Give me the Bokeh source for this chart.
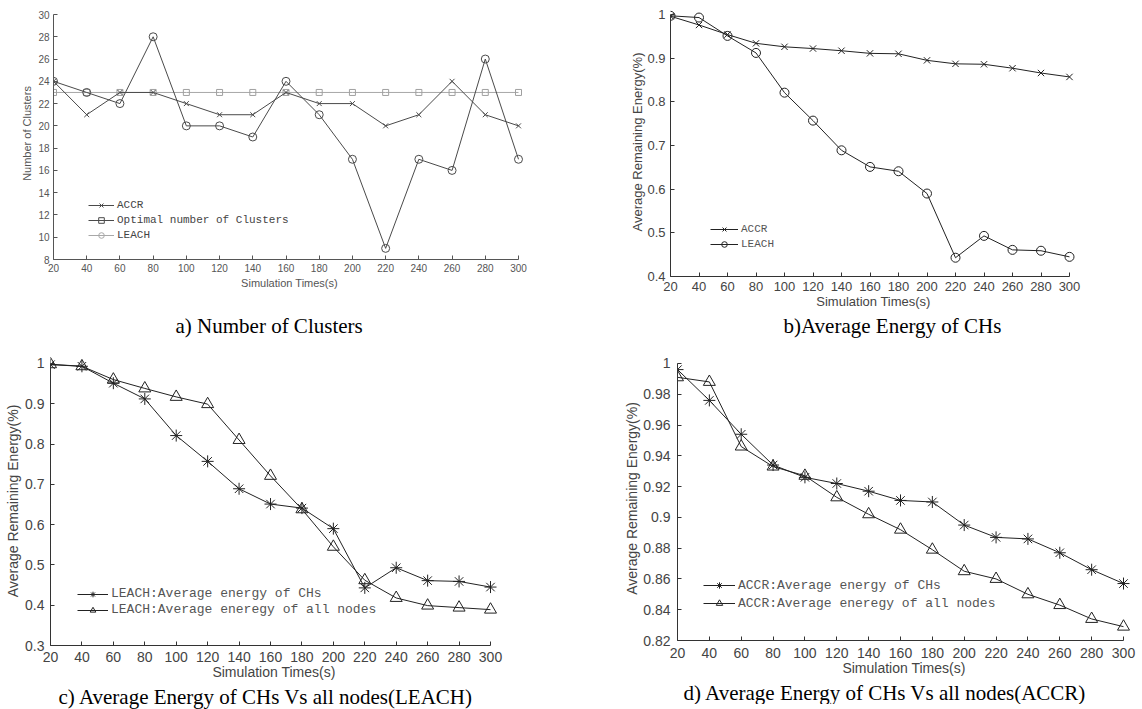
from bokeh.plotting import figure
from bokeh.layouts import column, row
from bokeh.models import (Range1d, FixedTicker, CustomJSTickFormatter,
                          Legend, LegendItem, ColumnDataSource, Title)
from bokeh.embed import file_html
from bokeh.resources import INLINE

# ---------------- data ----------------
times = [20, 40, 60, 80, 100, 120, 140, 160, 180, 200, 220, 240, 260, 280, 300]

# a) Number of Clusters
clusters_accr = [24, 21, 23, 23, 22, 21, 21, 23, 22, 22, 20, 21, 24, 21, 20]
clusters_swing = [24, 23, 22, 28, 20, 20, 19, 24, 21, 17, 9, 17, 16, 26, 17]
clusters_const = [23, 23, 23, 23, 23, 23, 23, 23, 23, 23, 23, 23, 23, 23, 23]

# b) / d) ACCR energy of CHs, b) / c) LEACH energy of CHs
accr_chs = [0.996, 0.976, 0.954, 0.934, 0.926, 0.922, 0.917, 0.911, 0.910,
            0.895, 0.887, 0.886, 0.877, 0.866, 0.857]
leach_chs = [0.997, 0.993, 0.951, 0.912, 0.821, 0.757, 0.689, 0.651, 0.641,
             0.590, 0.443, 0.493, 0.461, 0.459, 0.445]
# c) LEACH all nodes, d) ACCR all nodes
leach_all = [0.998, 0.993, 0.960, 0.938, 0.917, 0.899, 0.810, 0.721, 0.638,
             0.545, 0.462, 0.418, 0.399, 0.394, 0.389]
accr_all = [0.991, 0.988, 0.946, 0.933, 0.927, 0.913, 0.902, 0.892, 0.879,
            0.865, 0.860, 0.850, 0.843, 0.834, 0.829]

ticks_a = [8, 10, 12, 14, 16, 18, 20, 22, 24, 26, 28, 30]
ticks_b = [0.4, 0.5, 0.6, 0.7, 0.8, 0.9, 1.0]
ticks_c = [0.3, 0.4, 0.5, 0.6, 0.7, 0.8, 0.9, 1.0]
ticks_d = [0.82, 0.84, 0.86, 0.88, 0.9, 0.92, 0.94, 0.96, 0.98, 1.0]

SANS = "Liberation Sans"
MONO = "Liberation Mono"
SERIF = "Liberation Serif"
INK = "#222222"
PAD = 7  # px of room beyond the last tick (right / top) so markers are not cut


def make_fig(w, h, yticks, borders, axis_px, fs_tick, fs_label, ylabel,
             axis_col, text_col, tick_stand, lab_stand_x, lab_stand_y):
    ml, mr, mt, mb = borders
    ax_w, ax_h = axis_px          # pixel length of the x axis and y axis lines
    x0, x1 = times[0], times[-1]
    y0, y1 = yticks[0], yticks[-1]
    xr = Range1d(x0, x1 + PAD * (x1 - x0) / ax_w)
    yr = Range1d(y0, y1 + PAD * (y1 - y0) / ax_h)
    p = figure(width=w, height=h, x_range=xr, y_range=yr,
               output_backend="svg", toolbar_location=None,
               min_border_left=ml, min_border_right=mr,
               min_border_top=mt, min_border_bottom=mb)
    p.outline_line_color = None
    p.grid.visible = False
    p.background_fill_color = "white"
    p.border_fill_color = "white"
    fmt = "return String(Math.round(tick*1000)/1000);"
    p.xaxis.ticker = FixedTicker(ticks=times)
    p.yaxis.ticker = FixedTicker(ticks=yticks)
    p.xaxis.formatter = CustomJSTickFormatter(code=fmt)
    p.yaxis.formatter = CustomJSTickFormatter(code=fmt)
    p.xaxis.bounds = (x0, x1)
    p.yaxis.bounds = (y0, y1)
    for ax in (p.xaxis[0], p.yaxis[0]):
        ax.axis_line_color = axis_col
        ax.major_tick_line_color = axis_col
        ax.minor_tick_line_color = None
        ax.major_tick_in = 4
        ax.major_tick_out = 0
        ax.major_label_text_font = SANS
        ax.major_label_text_font_size = fs_tick
        ax.major_label_text_color = text_col
        ax.major_label_standoff = tick_stand
        ax.axis_label_text_font = SANS
        ax.axis_label_text_font_size = fs_label
        ax.axis_label_text_font_style = "normal"
        ax.axis_label_text_color = text_col
    p.xaxis.axis_label = "Simulation Times(s)"
    p.yaxis.axis_label = ylabel
    p.xaxis.axis_label_standoff = lab_stand_x
    p.yaxis.axis_label_standoff = lab_stand_y
    return p


def add_caption(p, text, offset, gap):
    # a blank, tiny title used only as a vertical gap, then the caption
    if gap > 0:
        p.add_layout(Title(text=" ", standoff=gap, text_font=SERIF,
                           text_font_size="1px", text_color="white"), "below")
    p.add_layout(Title(text=text, align="left", offset=offset, standoff=0,
                       text_font=SERIF, text_font_size="21px",
                       text_font_style="normal", text_color="black"), "below")


def add_legend(p, items, loc, gw, gh, fs, col, spacing):
    leg = Legend(items=items, location=loc, glyph_width=gw, glyph_height=gh,
                 label_height=gh, label_standoff=3, spacing=spacing,
                 padding=0, margin=0, border_line_color=None,
                 background_fill_alpha=0, label_text_font=MONO,
                 label_text_font_size=fs, label_text_color=col)
    p.add_layout(leg)


def proxy(p, color, marker, size):
    # legend-only sample (one undefined point, never visible in the plot)
    src = ColumnDataSource(data=dict(x=[float("nan")], y=[float("nan")]))
    l = p.line("x", "y", source=src, line_color=color, line_width=1)
    s = p.scatter("x", "y", source=src, marker=marker, size=size,
                  line_color=color, fill_color=None, line_width=1)
    return [l, s]


# ---------------- a) ----------------
ca = "#4a4a4a"
pa = make_fig(600, 339, ticks_a, (53, 75, 7, 80), (465, 245), "10px", "11px",
              "Number of Clusters", "#555555", "#555555", 4, 2, 2)
pa.line(times, clusters_const, line_color="#a8a8a8", line_width=1)
pa.scatter(times, clusters_const, marker="square", size=6, line_color="#a0a0a0",
           fill_color=None)
ra1 = pa.line(times, clusters_accr, line_color=ca, line_width=1)
ra2 = pa.scatter(times, clusters_accr, marker="x", size=7, line_color=ca)
pa.line(times, clusters_swing, line_color=ca, line_width=1)
pa.scatter(times, clusters_swing, marker="circle", size=8, line_color=ca,
           fill_color=None)
add_legend(pa, [LegendItem(label="ACCR", renderers=[ra1, ra2]),
                LegendItem(label="Optimal number of Clusters",
                           renderers=proxy(pa, ca, "square", 6)),
                LegendItem(label="LEACH", renderers=proxy(pa, "#a8a8a8", "circle", 8))],
           (35, 17), 26, 14, "11px", "#444444", 1)
add_caption(pa, "a) Number of Clusters", 122, 17)

# ---------------- b) ----------------
pb = make_fig(542, 356, ticks_b, (70, 66, 7, 80), (399, 262), "13px", "13px",
              "Average Remaining Energy(%)", "#333333", "#444444", 5, 0, -1)
rb1 = pb.line(times, accr_chs, line_color=INK, line_width=1)
rb2 = pb.scatter(times, accr_chs, marker="x", size=9, line_color=INK)
rb3 = pb.line(times, leach_chs, line_color=INK, line_width=1)
rb4 = pb.scatter(times, leach_chs, marker="circle", size=9, line_color=INK,
                 fill_color=None)
add_legend(pb, [LegendItem(label="ACCR", renderers=[rb1, rb2]),
                LegendItem(label="LEACH", renderers=[rb3, rb4])],
           (40, 25), 28, 14, "11px", "#555555", 1)
add_caption(pb, "b)Average Energy of CHs", 113, 0)

# ---------------- c) ----------------
pc = make_fig(600, 353, ticks_c, (50, 103, 0, 62), (440, 284), "14px", "14px",
              "Average Remaining Energy(%)", "#333333", "#444444", 6, -1, 1)
rc1 = pc.line(times, leach_chs, line_color=INK, line_width=1)
rc2 = pc.scatter(times, leach_chs, marker="asterisk", size=12, line_color=INK)
rc3 = pc.line(times, leach_all, line_color=INK, line_width=1)
rc4 = pc.scatter(times, leach_all, marker="triangle", size=12, line_color=INK,
                 fill_color=None)
add_legend(pc, [LegendItem(label="LEACH:Average energy of CHs", renderers=[rc1, rc2]),
                LegendItem(label="LEACH:Average eneregy of all nodes",
                           renderers=[rc3, rc4])],
           (27, 28), 31, 14, "13px", "#555555", 1)
add_caption(pc, "c) Average Energy of CHs Vs all nodes(LEACH)", 8, 0)

# ---------------- d) ----------------
pd_ = make_fig(542, 348, ticks_d, (77, 12, 0, 62), (446, 279), "14px", "14px",
               "Average Remaining Energy(%)", "#333333", "#444444", 7, -1, 0)
rd1 = pd_.line(times, accr_chs, line_color=INK, line_width=1)
rd2 = pd_.scatter(times, accr_chs, marker="asterisk", size=12, line_color=INK)
rd3 = pd_.line(times, accr_all, line_color=INK, line_width=1)
rd4 = pd_.scatter(times, accr_all, marker="triangle", size=12, line_color=INK,
                  fill_color=None)
add_legend(pd_, [LegendItem(label="ACCR:Average energy of CHs", renderers=[rd1, rd2]),
                 LegendItem(label="ACCR:Average eneregy of all nodes",
                            renderers=[rd3, rd4])],
           (26, 29), 32, 16, "13px", "#555555", 2)
add_caption(pd_, "d) Average Energy of CHs Vs all nodes(ACCR)", 6, 0)

layout = column(row(pa, pb), row(pc, pd_))
open("out.html", "w").write(file_html(layout, INLINE))
